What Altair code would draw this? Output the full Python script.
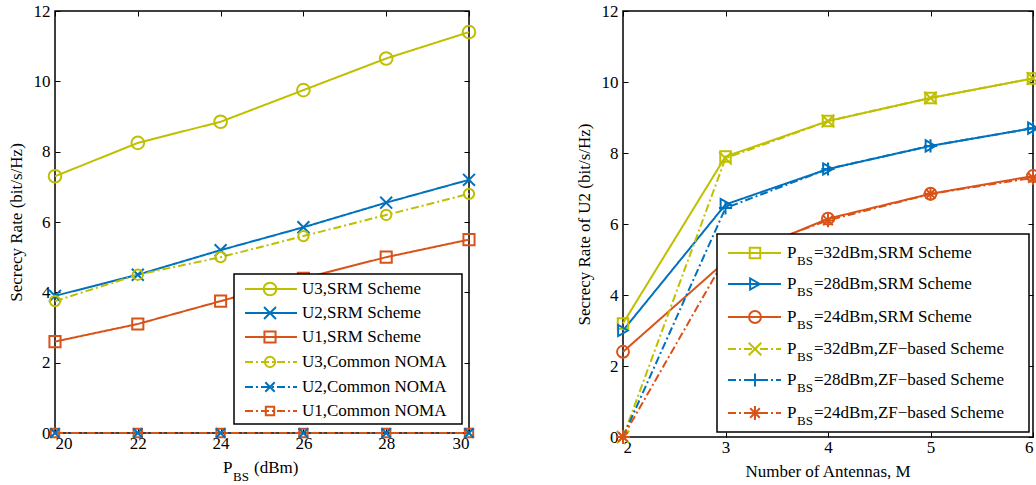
import altair as alt
import pandas as pd

YEL = "#BFBF00"
BLU = "#0072BD"
ORG = "#D95319"
FONT = "Liberation Serif"
FS = 17
DD = [8, 3, 2, 3]
SOLID = [1, 0]
XPATH = "M-1,-1L1,1M-1,1L1,-1"
PLUS = "M-1,0L1,0M0,-1L0,1"
STAR = "M-1,0L1,0M0,-1L0,1M-0.7,-0.7L0.7,0.7M-0.7,0.7L0.7,-0.7"

# ---------------- left panel data ----------------
left_x = [20, 22, 24, 26, 28, 30]
u3_srm = [7.3, 8.25, 8.85, 9.75, 10.65, 11.4]
u2_srm = [3.9, 4.5, 5.2, 5.85, 6.55, 7.2]
u1_srm = [2.6, 3.1, 3.75, 4.4, 5.0, 5.5]
u3_noma = [3.75, 4.5, 5.0, 5.6, 6.2, 6.8]
u2_noma = [0, 0, 0, 0, 0, 0]
u1_noma = [0, 0, 0, 0, 0, 0]
left_names = ["U3,SRM Scheme", "U2,SRM Scheme", "U1,SRM Scheme",
              "U3,Common NOMA", "U2,Common NOMA", "U1,Common NOMA"]
left_vals = [u3_srm, u2_srm, u1_srm, u3_noma, u2_noma, u1_noma]
left_colors = [YEL, BLU, ORG, YEL, BLU, ORG]
left_shapes = ["circle", XPATH, "square", "circle", XPATH, "square"]
left_sizes = [160, 70, 110, 160, 70, 110]
left_dashes = [SOLID, SOLID, SOLID, DD, DD, DD]
left_xticks = [20, 22, 24, 26, 28, 30]

# ---------------- right panel data ----------------
right_x = [2, 3, 4, 5, 6]
p32_srm = [3.2, 7.9, 8.9, 9.55, 10.1]
p28_srm = [3.0, 6.55, 7.55, 8.2, 8.7]
p24_srm = [2.4, 4.95, 6.15, 6.85, 7.35]
p32_zf = [0, 7.85, 8.9, 9.55, 10.1]
p28_zf = [0, 6.45, 7.55, 8.2, 8.7]
p24_zf = [0, 5.05, 6.1, 6.85, 7.3]
right_names = ["=32dBm,SRM Scheme", "=28dBm,SRM Scheme", "=24dBm,SRM Scheme",
               "=32dBm,ZF\u2212based Scheme", "=28dBm,ZF\u2212based Scheme",
               "=24dBm,ZF\u2212based Scheme"]
right_vals = [p32_srm, p28_srm, p24_srm, p32_zf, p28_zf, p24_zf]
right_colors = [YEL, BLU, ORG, YEL, BLU, ORG]
right_shapes = ["square", "triangle-right", "circle", XPATH, PLUS, STAR]
right_sizes = [110, 190, 160, 70, 120, 120]
right_dashes = [SOLID, SOLID, SOLID, DD, DD, DD]
right_xticks = [2, 3, 4, 5, 6]

y_ticks = [0, 2, 4, 6, 8, 10, 12]


def make_panel(xs, names, vals, colors, shapes, sizes, dashes, xdom, xticks,
               W, H, ytitle, legend_px, subscript, point_order, fs):
    rows = []
    for i, (n, v) in enumerate(zip(names, vals)):
        for x, y in zip(xs, v):
            rows.append({"x": x, "y": y, "series": n, "k": i})
    df = pd.DataFrame(rows)

    xs_ = alt.Scale(domain=xdom, nice=False, zero=False)
    ys_ = alt.Scale(domain=[0, 12], nice=False)
    col = alt.Color("series:N", scale=alt.Scale(domain=names, range=colors), legend=None)
    dash = alt.StrokeDash("series:N", scale=alt.Scale(domain=names, range=dashes), legend=None)
    shp = alt.Shape("series:N", scale=alt.Scale(domain=names, range=shapes), legend=None)
    siz = alt.Size("series:N", scale=alt.Scale(domain=names, range=sizes), legend=None)

    ax_common = dict(offset=-5, tickSize=5, domain=False, grid=False, tickWidth=1,
                     tickColor="black")
    lines = alt.Chart(df).mark_line(strokeWidth=2).encode(
        x=alt.X("x:Q", scale=xs_, axis=alt.Axis(orient="bottom", values=xticks, format="d",
                                                 labelPadding=2, title=None, **ax_common)),
        y=alt.Y("y:Q", scale=ys_, axis=alt.Axis(orient="left", values=y_ticks, format="d",
                                                 labelPadding=5, title=ytitle, titlePadding=8,
                                                 **ax_common)),
        color=col, strokeDash=dash, detail="series:N",
        order=alt.Order("x:Q"),
    )
    pdf = df.copy()
    pdf["ord"] = pdf["k"].map(lambda k: point_order.index(k))
    pdf = pdf.sort_values(["ord", "x"])
    pts = alt.Chart(pdf).mark_point(filled=False, strokeWidth=2, opacity=1).encode(
        x=alt.X("x:Q", scale=xs_, axis=alt.Axis(orient="top", values=xticks, labels=False,
                                                 title=None, **ax_common)),
        y=alt.Y("y:Q", scale=ys_, axis=alt.Axis(orient="right", values=y_ticks, labels=False,
                                                 title=None, **ax_common)),
        color=col, shape=shp, size=siz,
        order=alt.Order("ord:Q"),
    )

    # legend geometry (pixel layout converted to data units)
    (bx0, bx1, by0, by1, row_y, lx0, lx1, mx, tx) = legend_px

    def dx(px):
        return xdom[0] + px / W * (xdom[1] - xdom[0])

    def dy(py):
        return (H - py) / H * 12

    box = pd.DataFrame([{"x": dx(bx0), "x2": dx(bx1), "y": dy(by0), "y2": dy(by1)}])
    box_l = alt.Chart(box).mark_rect(fill="white", stroke="black", strokeWidth=1.5).encode(
        x=alt.X("x:Q", scale=xs_, axis=None), x2="x2:Q",
        y=alt.Y("y:Q", scale=ys_, axis=None), y2="y2:Q")
    leg = pd.DataFrame([{"series": n, "y": dy(row_y[i]), "x1": dx(lx0), "x2": dx(lx1),
                         "xm": dx(mx), "xt": dx(tx), "label": n, "k": i}
                        for i, n in enumerate(names)])
    leg_line = alt.Chart(leg).mark_rule(strokeWidth=2).encode(
        x=alt.X("x1:Q", scale=xs_, axis=None), x2="x2:Q",
        y=alt.Y("y:Q", scale=ys_, axis=None), color=col, strokeDash=dash)
    leg_pt = alt.Chart(leg).mark_point(filled=False, strokeWidth=2, opacity=1).encode(
        x=alt.X("xm:Q", scale=xs_, axis=None),
        y=alt.Y("y:Q", scale=ys_, axis=None), color=col, shape=shp, size=siz)
    layers = [lines, pts, box_l, leg_line, leg_pt]
    if subscript:
        p_l = alt.Chart(leg).mark_text(align="left", baseline="middle", font=FONT,
                                       fontSize=fs, color="black").encode(
            x=alt.X("xt:Q", scale=xs_, axis=None), y=alt.Y("y:Q", scale=ys_, axis=None),
            text=alt.value("P"))
        s_l = alt.Chart(leg).mark_text(align="left", baseline="middle", font=FONT,
                                       fontSize=13, color="black", dx=10, dy=8).encode(
            x=alt.X("xt:Q", scale=xs_, axis=None), y=alt.Y("y:Q", scale=ys_, axis=None),
            text=alt.value("BS"))
        r_l = alt.Chart(leg).mark_text(align="left", baseline="middle", font=FONT,
                                       fontSize=fs, color="black", dx=27).encode(
            x=alt.X("xt:Q", scale=xs_, axis=None), y=alt.Y("y:Q", scale=ys_, axis=None),
            text="label:N")
        layers += [p_l, s_l, r_l]
    else:
        t_l = alt.Chart(leg).mark_text(align="left", baseline="middle", font=FONT,
                                       fontSize=fs, color="black").encode(
            x=alt.X("xt:Q", scale=xs_, axis=None), y=alt.Y("y:Q", scale=ys_, axis=None),
            text="label:N")
        layers += [t_l]
    return layers


# left panel: plot area 414 x 422
LW, LH = 414, 422
left_legend = (234 - 55, 462 - 55, 274 - 11, 424 - 11,
               [r - 11 for r in [289, 313, 337, 362, 387, 411]],
               245 - 55, 297 - 55, 270 - 55, 302 - 55)
left_layers = make_panel(left_x, left_names, left_vals, left_colors, left_shapes, left_sizes,
                         left_dashes, [20, 30], left_xticks, LW, LH,
                         "Secrecy Rate (bit/s/Hz)", left_legend, False, [0, 1, 2, 3, 5, 4],
                         FS)
title_df = pd.DataFrame([{"x": 25}])
xt_p = alt.Chart(title_df).mark_text(align="left", baseline="middle", font=FONT, fontSize=FS,
                                     color="black", dx=-39).encode(
    x=alt.X("x:Q", scale=alt.Scale(domain=[20, 30], nice=False), axis=None),
    y=alt.value(LH + 35), text=alt.value("P"))
xt_s = alt.Chart(title_df).mark_text(align="left", baseline="middle", font=FONT, fontSize=13,
                                     color="black", dx=-29).encode(
    x=alt.X("x:Q", scale=alt.Scale(domain=[20, 30], nice=False), axis=None),
    y=alt.value(LH + 44), text=alt.value("BS"))
xt_r = alt.Chart(title_df).mark_text(align="left", baseline="middle", font=FONT, fontSize=FS,
                                     color="black", dx=-8).encode(
    x=alt.X("x:Q", scale=alt.Scale(domain=[20, 30], nice=False), axis=None),
    y=alt.value(LH + 35), text=alt.value("(dBm)"))
left = alt.layer(*left_layers, xt_p, xt_s, xt_r).resolve_axis(
    x="independent", y="independent").properties(width=LW, height=LH)

# right panel: plot area 410 x 426
RW, RH = 410, 426
right_legend = (717 - 623, 1029 - 623, 234 - 11, 432 - 11,
                [r - 11 for r in [253, 284, 317, 349, 380, 413]],
                728 - 623, 781 - 623, 755 - 623, 787 - 623)
right_layers = make_panel(right_x, right_names, right_vals, right_colors, right_shapes,
                          right_sizes, right_dashes, [2, 6], right_xticks, RW, RH,
                          "Secrecy Rate of U2 (bit/s/Hz)", right_legend, True,
                          [0, 1, 2, 3, 4, 5], FS)
rt_df = pd.DataFrame([{"x": 4}])
rt = alt.Chart(rt_df).mark_text(align="center", baseline="middle", font=FONT, fontSize=FS,
                                color="black").encode(
    x=alt.X("x:Q", scale=alt.Scale(domain=[2, 6], nice=False), axis=None),
    y=alt.value(RH + 35), text=alt.value("Number of Antennas, M"))
right = alt.layer(*right_layers, rt).resolve_axis(
    x="independent", y="independent").properties(width=RW, height=RH)

chart = alt.hconcat(left, right, spacing=93).resolve_scale(
    color="independent", shape="independent", size="independent",
    strokeDash="independent").properties(
    autosize=alt.AutoSizeParams(type="none"),
    padding={"left": 55, "top": 11, "right": 981, "bottom": 474},
    background="white",
).configure_view(stroke="black", strokeWidth=1.5).configure_axis(
    labelFont=FONT, titleFont=FONT, labelFontSize=FS, titleFontSize=FS,
    titleFontWeight="normal", labelColor="black", titleColor="black")

chart.save("out.html", embed_options={"renderer": "svg", "actions": False})
